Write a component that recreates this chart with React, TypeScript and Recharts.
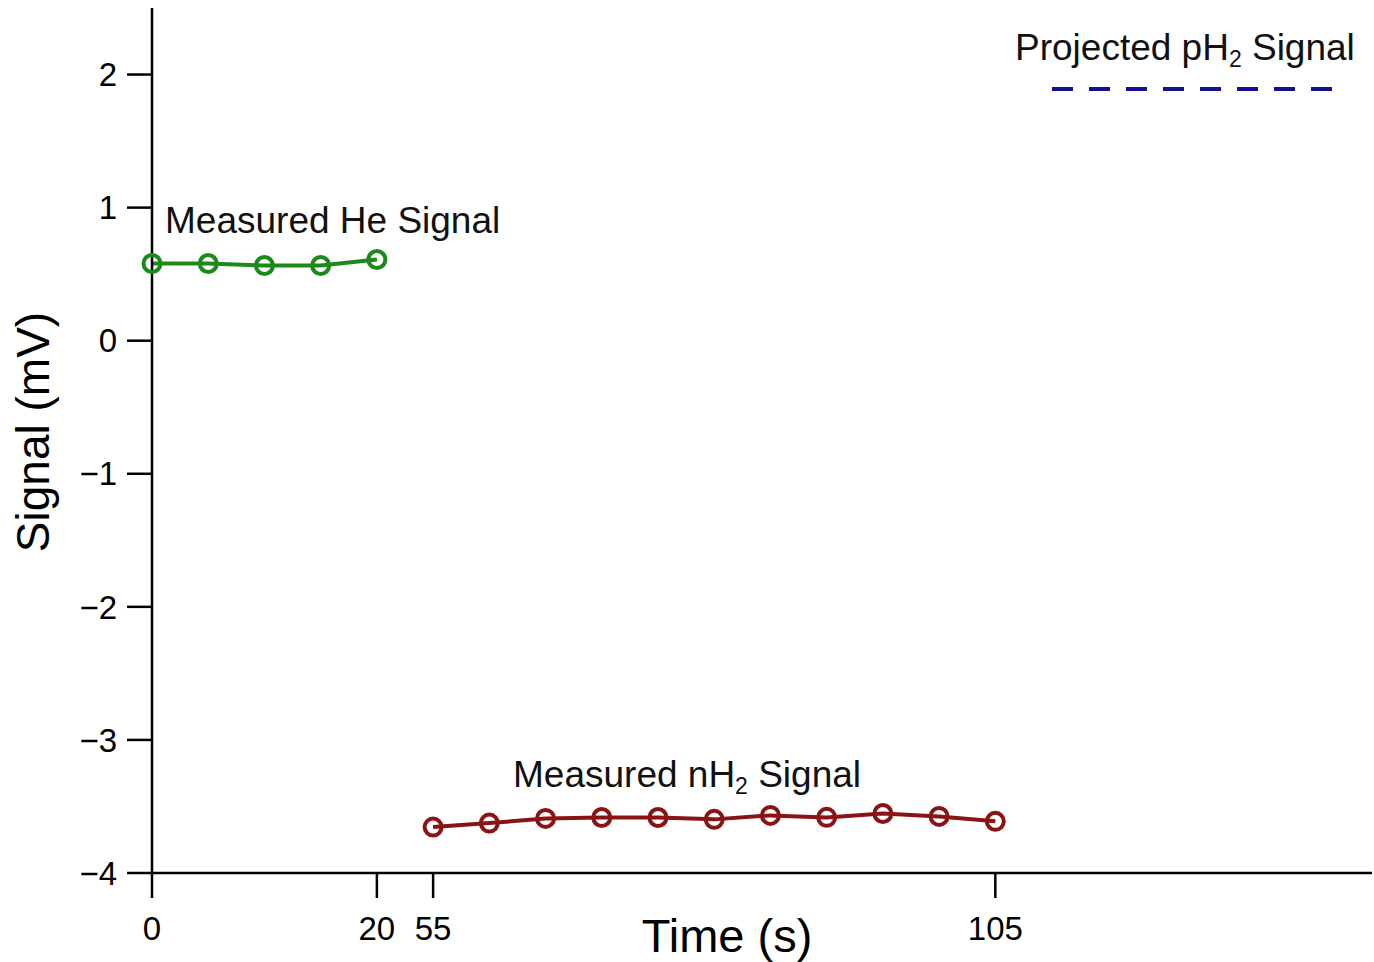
import { LineChart, Line, XAxis, YAxis } from "recharts";

// Measured He signal (first segment of the broken time axis)
const heTimes = [0, 5, 10, 15, 20];
const heSignal = [0.58, 0.58, 0.565, 0.565, 0.61];

// Measured nH2 signal (second segment, after the axis break)
const h2Times = [55, 60, 65, 70, 75, 80, 85, 90, 95, 100, 105];
const h2Signal = [-3.655, -3.625, -3.59, -3.583, -3.583, -3.597, -3.567, -3.582, -3.553, -3.575, -3.612];

const timeTicks = [0, 20, 55, 105];
const signalTicks = [-4, -3, -2, -1, 0, 1, 2];

// axis is broken between 20 s and 55 s: 55 s sits one tick step after 20 s
const BREAK_SHIFT = 30;
const toAxis = (t: number) => (t >= 55 ? t - BREAK_SHIFT : t);
const fromAxis = (v: number) => (v > 20 ? v + BREAK_SHIFT : v);

const heData = heTimes.map((t, i) => ({ x: toAxis(t), y: heSignal[i] }));
const h2Data = h2Times.map((t, i) => ({ x: toAxis(t), y: h2Signal[i] }));

const FONT = '"Liberation Sans", Arial, Helvetica, sans-serif';
const GREEN = "#1b8a1b";
const RED = "#8a1414";
const BLUE = "#12128c";

// whole viewport, pinned to the top-left so the page never scrolls
const W = 1374;
const H = 962;

const fmtMinus = (v: number) => (v < 0 ? `\u2212${Math.abs(v)}` : `${v}`);

export default function App() {
  return (
    <div
      style={{
        position: "absolute",
        left: 0,
        top: 0,
        width: W,
        height: H,
        overflow: "hidden",
        background: "#fff",
        fontFamily: FONT,
      }}
    >
      <LineChart width={W} height={954} margin={{ top: 8, right: 2, bottom: 0, left: 8 }}>
        <XAxis
          type="number"
          dataKey="x"
          domain={[0, 108.5]}
          ticks={timeTicks.map(toAxis)}
          tickFormatter={(v) => `${fromAxis(v)}`}
          height={81}
          tickSize={25}
          tickMargin={19}
          stroke="#000"
          strokeWidth={2.5}
          tick={{ fontSize: 33, fill: "#000", fontFamily: FONT }}
        />
        <YAxis
          type="number"
          dataKey="y"
          domain={[-4, 2.5]}
          ticks={signalTicks}
          tickFormatter={fmtMinus}
          width={144}
          tickSize={25}
          tickMargin={10}
          stroke="#000"
          strokeWidth={2.5}
          tick={{ fontSize: 33, fill: "#000", fontFamily: FONT }}
        />
        <Line
          data={heData}
          dataKey="y"
          stroke={GREEN}
          strokeWidth={4}
          dot={{ r: 8.5, stroke: GREEN, strokeWidth: 4, fill: "none" }}
          isAnimationActive={false}
        />
        <Line
          data={h2Data}
          dataKey="y"
          stroke={RED}
          strokeWidth={4}
          dot={{ r: 8.5, stroke: RED, strokeWidth: 4, fill: "none" }}
          isAnimationActive={false}
        />
      </LineChart>

      {/* annotations, legend and axis titles in page coordinates */}
      <svg
        width={W}
        height={H}
        style={{ position: "absolute", left: 0, top: 0, pointerEvents: "none" }}
        fontFamily={FONT}
      >
        <text x={165} y={233} fontSize={37} fill="#111">
          Measured He Signal
        </text>
        <text x={513} y={787} fontSize={37} fill="#111">
          Measured nH
          <tspan fontSize={23} dy={7}>2</tspan>
          <tspan dy={-7}> Signal</tspan>
        </text>
        <text x={1015} y={60} fontSize={37} fill="#111">
          Projected pH
          <tspan fontSize={23} dy={7}>2</tspan>
          <tspan dy={-7}> Signal</tspan>
        </text>
        <line x1={1052} x2={1332} y1={89} y2={89} stroke={BLUE} strokeWidth={4} strokeDasharray="21 16" />
        <text x={727} y={952} fontSize={47} fill="#000" textAnchor="middle">
          Time (s)
        </text>
        <text
          x={0}
          y={0}
          fontSize={46}
          fill="#000"
          textAnchor="middle"
          transform="translate(49 432) rotate(-90)"
        >
          Signal (mV)
        </text>
      </svg>
    </div>
  );
}
